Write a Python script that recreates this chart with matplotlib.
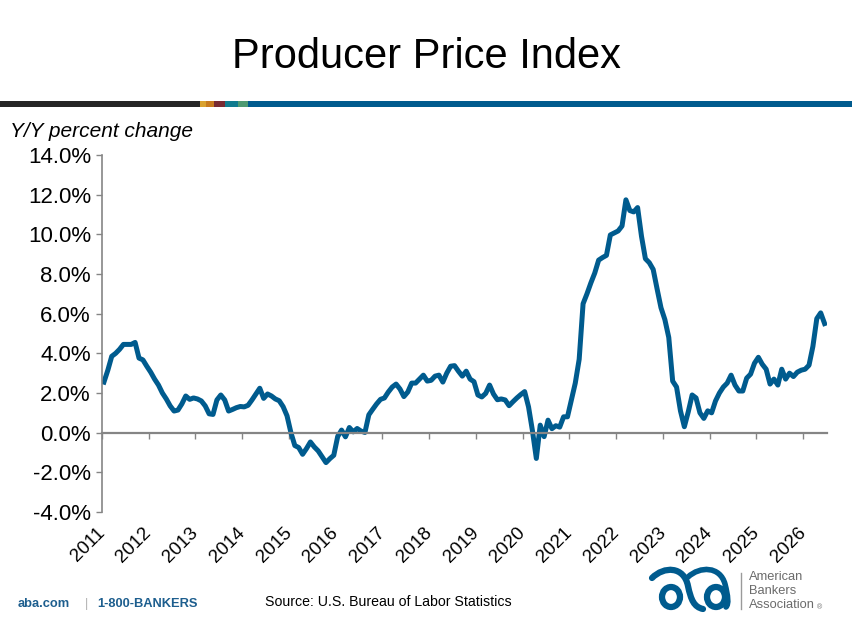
import numpy as np
import matplotlib
matplotlib.use('Agg')
import matplotlib.pyplot as plt
from matplotlib.patches import Rectangle, Ellipse, PathPatch
from matplotlib.path import Path

plt.rcParams['font.family'] = ['Liberation Sans', 'DejaVu Sans']

# PPI, y/y percent change, monthly
ppi_2011 = [2.55, 3.15, 3.85, 4.0, 4.2, 4.45, 4.45, 4.45, 4.55, 3.76, 3.67, 3.35]
ppi_2012 = [3.05, 2.7, 2.4, 2.0, 1.7, 1.35, 1.09, 1.14, 1.45, 1.85, 1.68, 1.75]
ppi_2013 = [1.7, 1.6, 1.35, 0.95, 0.92, 1.65, 1.9, 1.65, 1.09, 1.17, 1.26, 1.32]
ppi_2014 = [1.3, 1.38, 1.65, 1.95, 2.24, 1.73, 1.95, 1.85, 1.7, 1.61, 1.31, 0.85]
ppi_2015 = [0.0, -0.65, -0.75, -1.09, -0.8, -0.47, -0.72, -0.92, -1.22, -1.51, -1.31, -1.14]
ppi_2016 = [-0.2, 0.13, -0.21, 0.26, 0.04, 0.21, 0.08, 0.01, 0.9, 1.18, 1.45, 1.68]
ppi_2017 = [1.75, 2.05, 2.3, 2.45, 2.2, 1.82, 2.05, 2.5, 2.5, 2.7, 2.9, 2.6]
ppi_2018 = [2.64, 2.85, 2.9, 2.55, 3.0, 3.35, 3.38, 3.1, 2.85, 3.1, 2.7, 2.57]
ppi_2019 = [1.9, 1.8, 1.98, 2.4, 1.95, 1.66, 1.7, 1.65, 1.36, 1.56, 1.75, 1.92]
ppi_2020 = [2.07, 1.3, 0.1, -1.3, 0.38, -0.2, 0.63, 0.2, 0.35, 0.28, 0.8, 0.8]
ppi_2021 = [1.65, 2.5, 3.7, 6.5, 7.0, 7.55, 8.05, 8.7, 8.83, 8.94, 9.97, 10.07]
ppi_2022 = [10.17, 10.42, 11.74, 11.2, 11.13, 11.35, 9.9, 8.77, 8.57, 8.23, 7.25, 6.3]
ppi_2023 = [5.7, 4.8, 2.6, 2.3, 1.1, 0.3, 1.05, 1.9, 1.75, 1.0, 0.72, 1.1]
ppi_2024 = [1.0, 1.6, 2.0, 2.3, 2.5, 2.9, 2.4, 2.1, 2.1, 2.75, 2.95, 3.5]
ppi_2025 = [3.8, 3.45, 3.2, 2.45, 2.7, 2.4, 3.2, 2.7, 3.0, 2.83, 3.05, 3.15]
ppi_2026 = [3.2, 3.4, 4.35, 5.75, 6.04, 5.5]

years = list(range(2011, 2027))
yticks = list(range(-4, 15, 2))

values = (ppi_2011 + ppi_2012 + ppi_2013 + ppi_2014 + ppi_2015 + ppi_2016
          + ppi_2017 + ppi_2018 + ppi_2019 + ppi_2020 + ppi_2021 + ppi_2022
          + ppi_2023 + ppi_2024 + ppi_2025 + ppi_2026)
# mid-month positions in fractional years
t = 2011 + (np.arange(len(values)) + 0.5) / 12

blue = '#005B8E'
gray = '#858585'

fig = plt.figure(figsize=(8.52, 6.36), dpi=100)

# background layer in pixel coordinates (bar, logo)
bg = fig.add_axes([0, 0, 1, 1])
bg.set_xlim(0, 852)
bg.set_ylim(636, 0)
bg.axis('off')

segs = [(0, 200, '#262626'), (200, 206, '#D9A12E'), (206, 214, '#C77A1E'),
        (214, 225, '#772A32'), (225, 238, '#0F7B8F'), (238, 248, '#4E9A72'),
        (248, 852, '#005B8E')]
for x0, x1, c in segs:
    bg.add_patch(Rectangle((x0, 101), x1 - x0, 6, color=c, lw=0))

fig.text(0.5, 1 - 57 / 636, 'Producer Price Index', ha='center', va='center',
         fontsize=30)
fig.text(10 / 852, 1 - 132 / 636, 'Y/Y percent change', ha='left', va='center',
         fontsize=15, style='italic')

ax = fig.add_axes([102 / 852, 1 - 512 / 636, 725 / 852, 357 / 636])
ax.plot(t, values, color=blue, lw=3.6, solid_joinstyle='round')
ax.set_xlim(2011, 2026.51)
ax.set_ylim(-4, 14)
ax.spines['top'].set_visible(False)
ax.spines['right'].set_visible(False)
ax.spines['left'].set_color(gray)
ax.spines['bottom'].set_color(gray)
ax.spines['left'].set_linewidth(1.2)
ax.spines['bottom'].set_linewidth(1.6)
ax.spines['bottom'].set_position(('data', 0))
ax.set_yticks(yticks)
ax.set_yticklabels([f'{v:.1f}%' for v in yticks])
ax.tick_params(axis='y', length=4, width=1, color=gray, labelsize=16, pad=4)
ax.set_xticks(years)
ax.set_xticklabels([])
ax.tick_params(axis='x', length=4, width=1, color=gray, direction='out')

sec = ax.secondary_xaxis(0)
sec.set_xticks(years, labels=[str(y) for y in years])
sec.spines['bottom'].set_visible(False)
sec.tick_params(axis='x', length=0, pad=13, labelsize=13.5)
for lbl in sec.get_xticklabels():
    lbl.set_rotation(45)
    lbl.set_ha('right')
    lbl.set_va('center')
    lbl.set_rotation_mode('anchor')

# footer
fig.text(18 / 852, 1 - 604 / 636, 'aba.com', fontsize=9.3, fontweight='bold',
         color='#1D5E8E', va='center')
fig.text(85 / 852, 1 - 604 / 636, '|', fontsize=9, color='#b0b0b0', va='center')
fig.text(97 / 852, 1 - 604 / 636, '1-800-BANKERS', fontsize=9.3,
         fontweight='bold', color='#1D5E8E', va='center')
fig.text(265 / 852, 1 - 602 / 636, 'Source: U.S. Bureau of Labor Statistics',
         fontsize=10.2, va='center')

# logo, rough
bg.add_patch(Ellipse((671, 597), 18, 20, fill=False, lw=4.5, ec=blue))
bg.add_patch(Ellipse((716, 597), 18, 20, fill=False, lw=4.5, ec=blue))
C = Path.CURVE4
r1 = Path([(652, 578), (664, 566), (684, 566), (688, 586),
           (691, 600), (694, 607), (703, 609)],
          [Path.MOVETO, C, C, C, C, C, C])
r2 = Path([(688, 577), (700, 566), (720, 566), (725, 584),
           (728, 596), (729, 604), (726, 607)],
          [Path.MOVETO, C, C, C, C, C, C])
bg.add_patch(PathPatch(r1, fill=False, lw=4.5, ec=blue, capstyle='round'))
bg.add_patch(PathPatch(r2, fill=False, lw=4.0, ec=blue, capstyle='round'))
bg.plot([741, 741], [573, 609], color='#9a9a9a', lw=1)
bg.text(749, 571, 'American\nBankers\nAssociation', fontsize=9.3,
        color='#6b6b6b', va='top', ha='left', linespacing=1.2)
bg.text(817, 611, '®', fontsize=5, color='#6b6b6b', va='bottom', ha='left')

fig.savefig('out.png', dpi=100)
